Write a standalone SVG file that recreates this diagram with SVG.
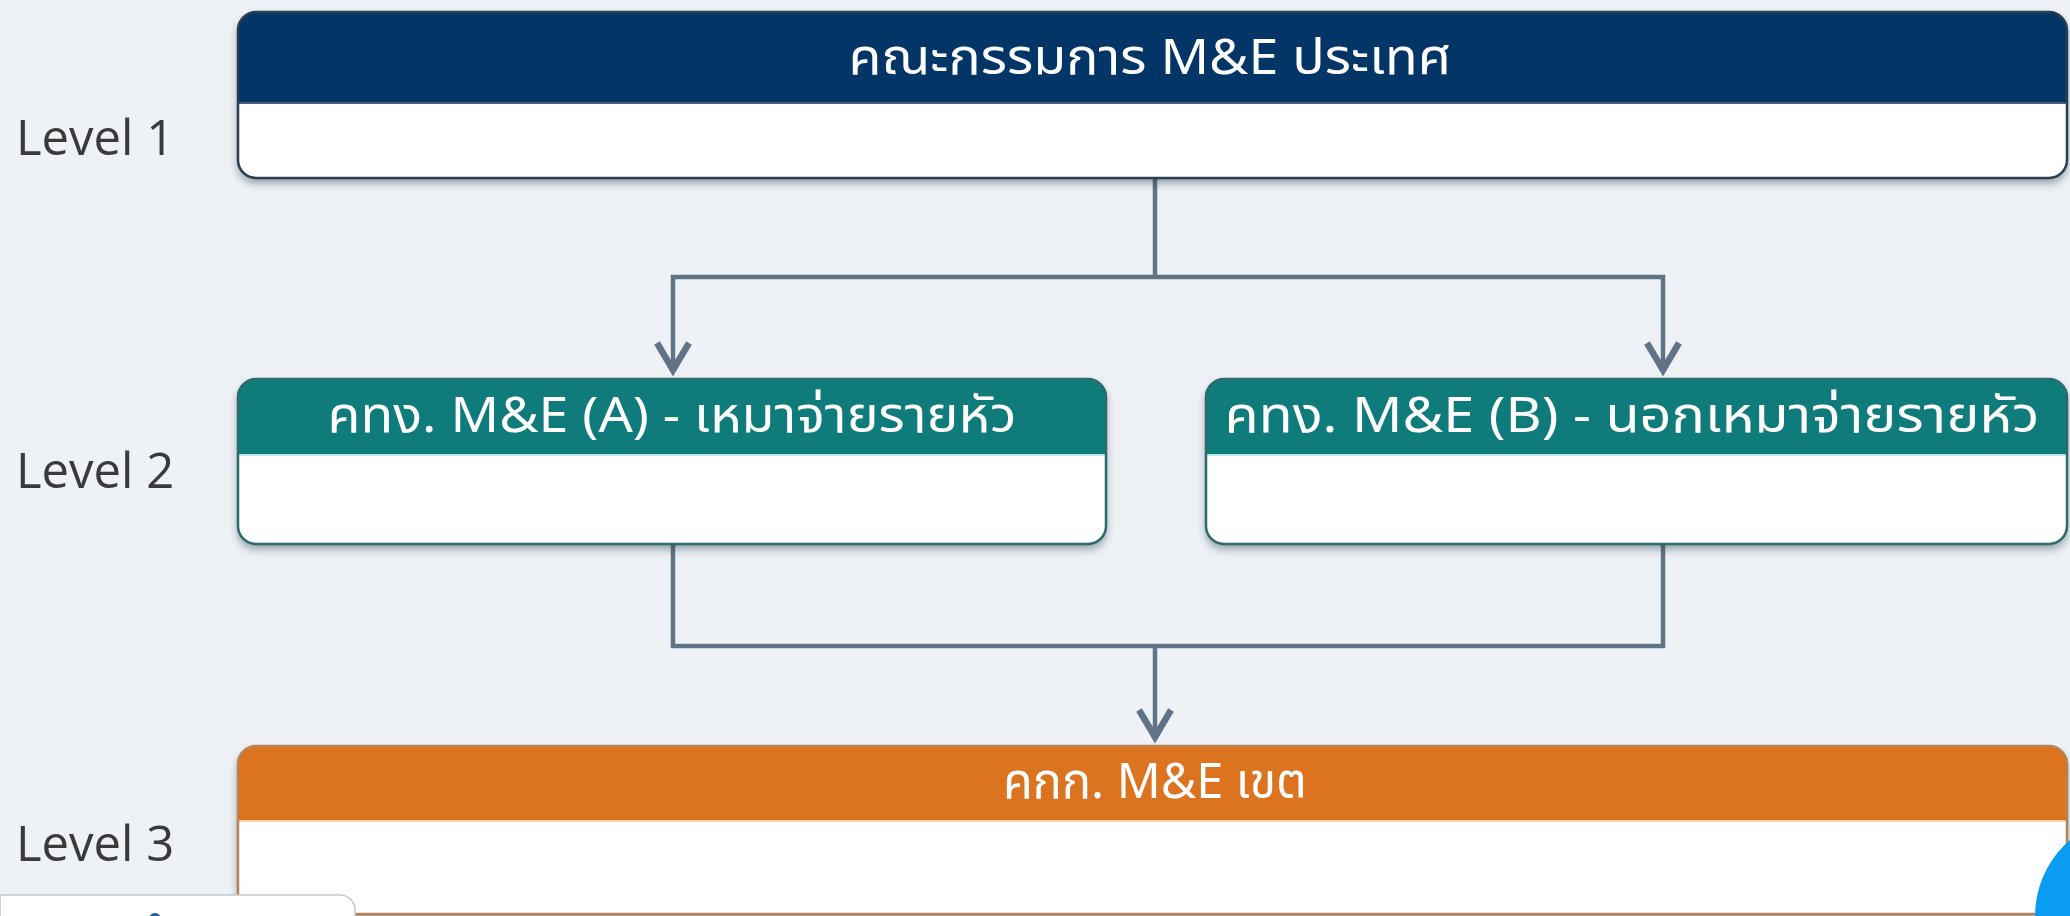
<svg xmlns="http://www.w3.org/2000/svg" width="2070" height="916" viewBox="0 0 2070 916">
  <defs>
    <style>
      .lvl{font-family:"Open Sans","Noto Sans",sans-serif;font-size:49px;fill:#3a3a3a}
      .hdr{font-family:"Noto Sans Thai","Noto Sans","DejaVu Sans",sans-serif;font-size:50px;fill:#ffffff;text-anchor:middle}
      .body{fill:#ffffff}
      .conn{fill:none;stroke:#617386;stroke-width:4.5}
      .navy{fill:#033566}
      .teal{fill:#0f7b7a}
      .orange{fill:#dc731f}
    </style>
    <filter id="shadow" x="-5%" y="-20%" width="110%" height="150%">
      <feDropShadow dx="0" dy="5" stdDeviation="4" flood-color="#1c2a38" flood-opacity="0.45"/>
    </filter>
    <marker id="arrow" markerUnits="userSpaceOnUse" markerWidth="40" markerHeight="40" refX="0" refY="0" orient="auto" overflow="visible">
      <path d="M-27,-16 L0,0 L-27,16" fill="none" stroke="#617386" stroke-width="6.5" stroke-linejoin="miter"/>
    </marker>
  </defs>

  <rect width="2070" height="916" fill="#eef2f6"/>

  <!-- level captions -->
  <g id="level-labels">
    <text class="lvl" x="16" y="155">Level 1</text>
    <text class="lvl" x="16" y="488">Level 2</text>
    <text class="lvl" x="16" y="861">Level 3</text>
  </g>

  <!-- connectors -->
  <g id="connectors">
    <path class="conn" d="M1155,178 V277"/>
    <path class="conn" d="M1155,277 H673 V370" marker-end="url(#arrow)"/>
    <path class="conn" d="M1155,277 H1663 V370" marker-end="url(#arrow)"/>
    <path class="conn" d="M673,544 V646 H1663 V544"/>
    <path class="conn" d="M1155,646 V737" marker-end="url(#arrow)"/>
  </g>

  <!-- national committee -->
  <g id="node-national">
    <rect class="body" x="238" y="12" width="1829" height="166" rx="18" filter="url(#shadow)"/>
    <path class="navy" d="M238,103 V30 A18,18 0 0 1 256,12 H2049 A18,18 0 0 1 2067,30 V103 Z"/>
    <line x1="238" y1="103" x2="2067" y2="103" stroke="#3d5f80" stroke-width="2"/>
    <rect x="238" y="12" width="1829" height="166" rx="18" fill="none" stroke="#2c3e52" stroke-width="2.5"/>
    <text class="hdr" x="1150" y="74" textLength="603" lengthAdjust="spacingAndGlyphs">คณะกรรมการ M&amp;E ประเทศ</text>
  </g>

  <!-- working group A -->
  <g id="node-group-a">
    <rect class="body" x="238" y="379" width="868" height="165" rx="18" filter="url(#shadow)"/>
    <path class="teal" d="M238,455 V397 A18,18 0 0 1 256,379 H1088 A18,18 0 0 1 1106,397 V455 Z"/>
    <line x1="238" y1="455" x2="1106" y2="455" stroke="#b9ece6" stroke-width="2"/>
    <rect x="238" y="379" width="868" height="165" rx="18" fill="none" stroke="#2d6b6e" stroke-width="2.5"/>
    <text class="hdr" x="672" y="432" textLength="689" lengthAdjust="spacingAndGlyphs">คทง. M&amp;E (A) - เหมาจ่ายรายหัว</text>
  </g>

  <!-- working group B -->
  <g id="node-group-b">
    <rect class="body" x="1206" y="379" width="861" height="165" rx="18" filter="url(#shadow)"/>
    <path class="teal" d="M1206,455 V397 A18,18 0 0 1 1224,379 H2049 A18,18 0 0 1 2067,397 V455 Z"/>
    <line x1="1206" y1="455" x2="2067" y2="455" stroke="#b9ece6" stroke-width="2"/>
    <rect x="1206" y="379" width="861" height="165" rx="18" fill="none" stroke="#2d6b6e" stroke-width="2.5"/>
    <text class="hdr" x="1632" y="432" textLength="815" lengthAdjust="spacingAndGlyphs">คทง. M&amp;E (B) - นอกเหมาจ่ายรายหัว</text>
  </g>

  <!-- district committee -->
  <g id="node-district">
    <rect class="body" x="238" y="746" width="1829" height="168" rx="18" filter="url(#shadow)"/>
    <path class="orange" d="M238,821 V764 A18,18 0 0 1 256,746 H2049 A18,18 0 0 1 2067,764 V821 Z"/>
    <line x1="238" y1="821" x2="2067" y2="821" stroke="#f6d2ae" stroke-width="2"/>
    <rect x="238" y="746" width="1829" height="168" rx="18" fill="none" stroke="#b98255" stroke-width="2.5"/>
    <text class="hdr" x="1155" y="798" textLength="304" lengthAdjust="spacingAndGlyphs">คกก. M&amp;E เขต</text>
  </g>

  <!-- overlay panel and round button along the lower edge -->
  <g id="overlay">
    <path d="M0,895 H340 A15,15 0 0 1 355,910 V917 H0 Z" fill="#ffffff" stroke="#c4c8cc" stroke-width="1.5"/>
    <circle cx="155" cy="919" r="6" fill="#1f5fa0"/>
    <circle cx="2135" cy="916" r="100" fill="#0a9cf2"/>
  </g>
</svg>
